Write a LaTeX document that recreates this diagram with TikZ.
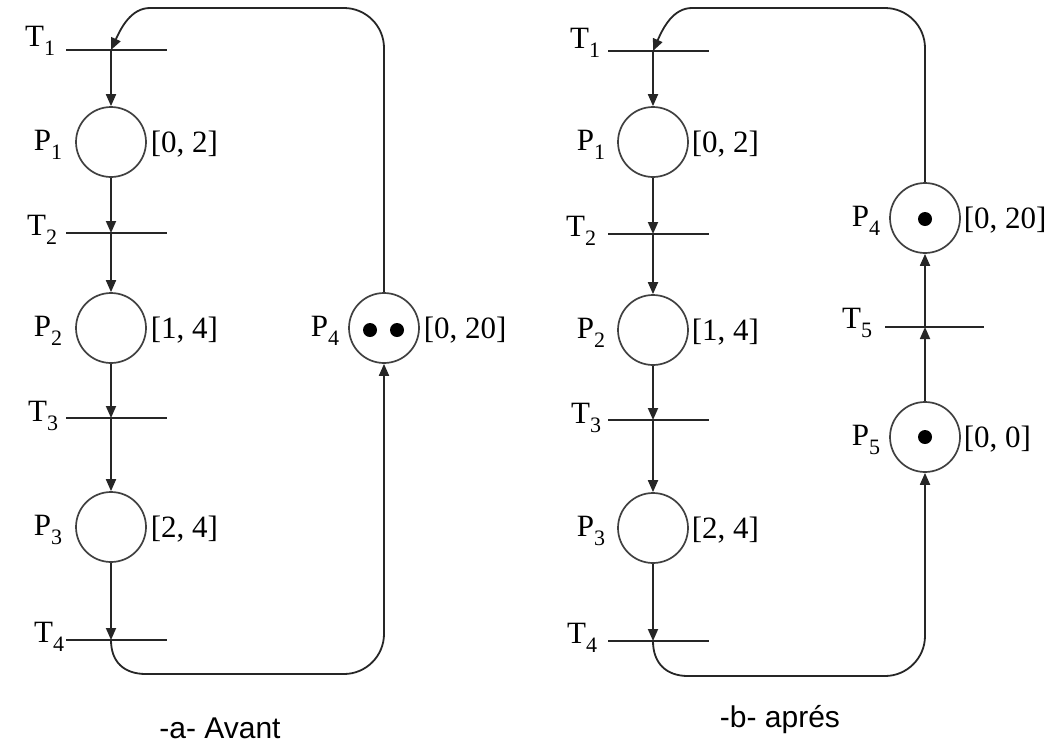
\documentclass[tikz,border=0pt]{standalone}
\usepackage{fontspec}
\setmainfont{Liberation Serif}
\newfontfamily\capfont{Liberation Sans}
\usetikzlibrary{arrows.meta}
\newcommand\lbl[2]{#1\raisebox{-0.3em}{\fontsize{22}{22}\selectfont #2}}
\begin{document}
\begin{tikzpicture}[x=1pt,y=-1pt,line width=1.8pt,draw=black!85,
  place/.style={circle,draw=black!75,minimum size=70pt,inner sep=0pt,line width=1.7pt},
  arr/.style={-{Triangle[length=12pt,width=10pt]}},
  lab/.style={font=\fontsize{31}{31}\selectfont,inner sep=0pt},
  tok/.style={circle,fill=black,minimum size=14pt,inner sep=0pt},
  captxt/.style={font=\capfont\fontsize{30}{30}\selectfont,inner sep=0pt}]
\useasboundingbox (0,0) rectangle (1057,745);
% ---------- (a) ----------
\coordinate (aT1) at (111,50);
\node[place] (aP1) at (111,142) {};
\coordinate (aT2) at (111,233);
\node[place] (aP2) at (111,328) {};
\coordinate (aT3) at (111,418);
\node[place] (aP3) at (111,527) {};
\coordinate (aT4) at (111,640);
\node[place] (aP4) at (384,328) {};
\node[tok] (aK1) at (370,330) {};
\node[tok] (aK2) at (397,330) {};
\foreach \t in {aT1,aT2,aT3,aT4} \draw (\t) ++(-45,0) -- ++(101,0);
\draw[arr] (aT1) -- (aP1.north);
\draw[arr] (aP1.south) -- (aT2);
\draw[arr] (aT2) -- (aP2.north);
\draw[arr] (aP2.south) -- (aT3);
\draw[arr] (aT3) -- (aP3.north);
\draw[arr] (aP3.south) -- (aT4);
\draw[arr] (aT4) .. controls (111,662) and (124,674) .. (146,674) -- (344,674)
  .. controls (366,674) and (384,656) .. (384,634) -- (aP4.south);
\draw[arr] (aP4.north) -- (384,48) .. controls (384,26) and (366,8) .. (344,8) -- (150,8)
  .. controls (131,8) and (121,28) .. (aT1);
\node[lab,anchor=base east] (aT1l) at (56,46) {\lbl{T}{1}};
\node[lab,anchor=base east] (aT2l) at (58,235) {\lbl{T}{2}};
\node[lab,anchor=base east] (aT3l) at (59,421) {\lbl{T}{3}};
\node[lab,anchor=base east] (aT4l) at (65,642) {\lbl{T}{4}};
\node[lab,anchor=base east] (aP1l) at (63,150) {\lbl{P}{1}};
\node[lab,anchor=base east] (aP2l) at (63,336) {\lbl{P}{2}};
\node[lab,anchor=base east] (aP3l) at (63,535) {\lbl{P}{3}};
\node[lab,anchor=base east] (aP4l) at (340,336) {\lbl{P}{4}};
\node[lab,anchor=base west] (aP1r) at (150,152) {[0, 2]};
\node[lab,anchor=base west] (aP2r) at (150,338) {[1, 4]};
\node[lab,anchor=base west] (aP3r) at (150,537) {[2, 4]};
\node[lab,anchor=base west] (aP4r) at (423,338) {[0, 20]};
\node[captxt,anchor=base] (capA) at (220,738) {-a- Avant};
% ---------- (b) ----------
\coordinate (bT1) at (653,51);
\node[place] (bP1) at (653,142) {};
\coordinate (bT2) at (653,234);
\node[place] (bP2) at (653,330) {};
\coordinate (bT3) at (653,420);
\node[place] (bP3) at (653,528) {};
\coordinate (bT4) at (653,641);
\node[place] (bP4) at (925,218) {};
\coordinate (bT5) at (925,327);
\node[place] (bP5) at (925,437) {};
\node[tok] (bK4) at (925,219) {};
\node[tok] (bK5) at (925,437) {};
\foreach \t in {bT1,bT2,bT3,bT4} \draw (\t) ++(-45,0) -- ++(101,0);
\draw (bT5) ++(-40,0) -- ++(99,0);
\draw[arr] (bT1) -- (bP1.north);
\draw[arr] (bP1.south) -- (bT2);
\draw[arr] (bT2) -- (bP2.north);
\draw[arr] (bP2.south) -- (bT3);
\draw[arr] (bT3) -- (bP3.north);
\draw[arr] (bP3.south) -- (bT4);
\draw[arr] (bP5.north) -- (bT5);
\draw[arr] (bT5) -- (bP4.south);
\draw[arr] (bT4) .. controls (653,663) and (666,676) .. (688,676) -- (885,676)
  .. controls (907,676) and (925,658) .. (925,636) -- (bP5.south);
\draw[arr] (bP4.north) -- (925,48) .. controls (925,26) and (907,8) .. (885,8) -- (692,8)
  .. controls (673,8) and (663,28) .. (bT1);
\node[lab,anchor=base east] (bT1l) at (601,48) {\lbl{T}{1}};
\node[lab,anchor=base east] (bT2l) at (597,236) {\lbl{T}{2}};
\node[lab,anchor=base east] (bT3l) at (602,423) {\lbl{T}{3}};
\node[lab,anchor=base east] (bT4l) at (598,643) {\lbl{T}{4}};
\node[lab,anchor=base east] (bT5l) at (873,328) {\lbl{T}{5}};
\node[lab,anchor=base east] (bP1l) at (606,150) {\lbl{P}{1}};
\node[lab,anchor=base east] (bP2l) at (606,338) {\lbl{P}{2}};
\node[lab,anchor=base east] (bP3l) at (606,536) {\lbl{P}{3}};
\node[lab,anchor=base east] (bP4l) at (881,226) {\lbl{P}{4}};
\node[lab,anchor=base east] (bP5l) at (881,445) {\lbl{P}{5}};
\node[lab,anchor=base west] (bP1r) at (691,152) {[0, 2]};
\node[lab,anchor=base west] (bP2r) at (691,340) {[1, 4]};
\node[lab,anchor=base west] (bP3r) at (691,538) {[2, 4]};
\node[lab,anchor=base west] (bP4r) at (963,228) {[0, 20]};
\node[lab,anchor=base west] (bP5r) at (963,447) {[0, 0]};
\node[captxt,anchor=base] (capB) at (780,727) {-b- aprés};
\end{tikzpicture}
\end{document}
